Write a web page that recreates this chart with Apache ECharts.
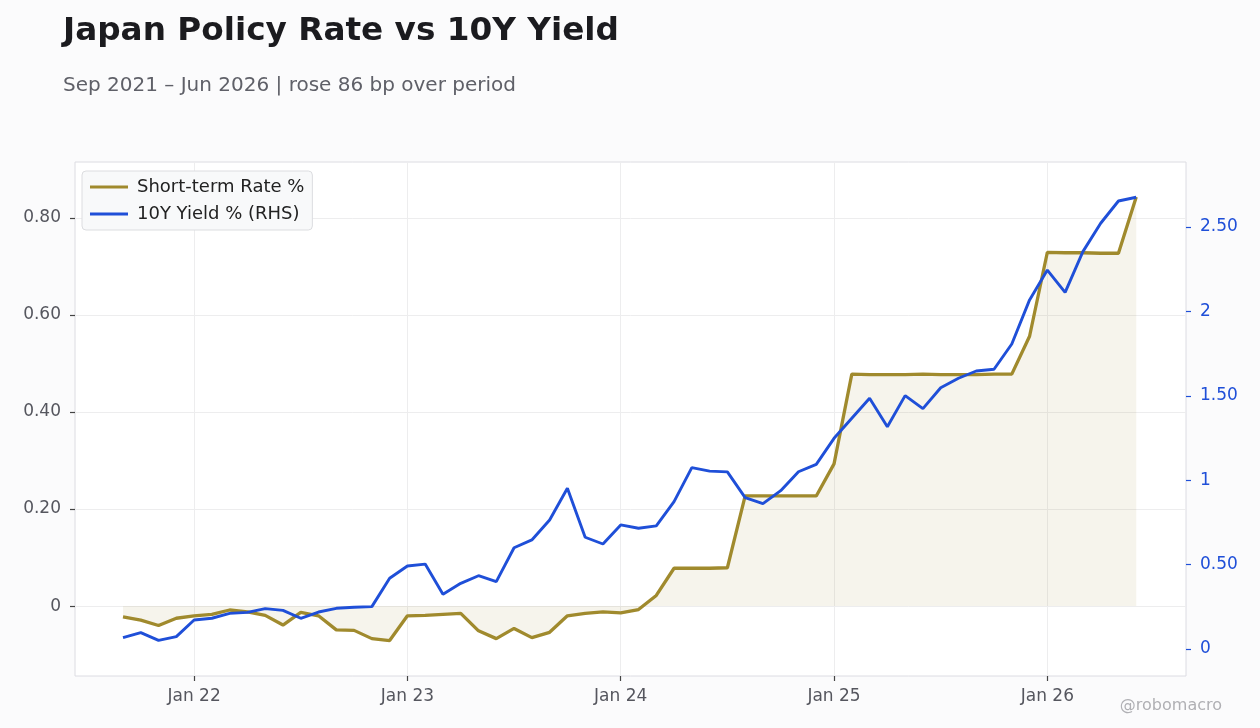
<!DOCTYPE html>
<html>
<head>
<meta charset="utf-8">
<script src="https://cdn.jsdelivr.net/npm/echarts@6/dist/echarts.min.js"></script>
<style>
  html, body { margin: 0; padding: 0; background: #fbfbfc; }
  #main { width: 1260px; height: 728px; }
</style>
</head>
<body>
<div id="main"></div>
<script>
// monthly, Sep 2021 .. Jun 2026
const months = [
    '2021-09','2021-10','2021-11','2021-12',
    '2022-01','2022-02','2022-03','2022-04','2022-05','2022-06','2022-07','2022-08','2022-09','2022-10','2022-11','2022-12',
    '2023-01','2023-02','2023-03','2023-04','2023-05','2023-06','2023-07','2023-08','2023-09','2023-10','2023-11','2023-12',
    '2024-01','2024-02','2024-03','2024-04','2024-05','2024-06','2024-07','2024-08','2024-09','2024-10','2024-11','2024-12',
    '2025-01','2025-02','2025-03','2025-04','2025-05','2025-06','2025-07','2025-08','2025-09','2025-10','2025-11','2025-12',
    '2026-01','2026-02','2026-03','2026-04','2026-05','2026-06'
];

const shortRate = [
    -0.022, -0.029, -0.040, -0.025,
    -0.020, -0.017, -0.008, -0.012, -0.019, -0.039, -0.013, -0.020, -0.049, -0.050, -0.067, -0.071,
    -0.020, -0.019, -0.017, -0.015, -0.051, -0.067, -0.046, -0.065, -0.054, -0.020, -0.015, -0.012,
    -0.014, -0.007, 0.022, 0.078, 0.078, 0.078, 0.079, 0.227, 0.227, 0.227, 0.227, 0.227,
    0.293, 0.478, 0.477, 0.477, 0.477, 0.478, 0.477, 0.477, 0.477, 0.478, 0.478, 0.556,
    0.729, 0.728, 0.728, 0.727, 0.727, 0.843
];

const yield10y = [
    0.067, 0.097, 0.051, 0.073,
    0.172, 0.182, 0.211, 0.217, 0.239, 0.229, 0.182, 0.219, 0.241, 0.247, 0.251, 0.419,
    0.492, 0.503, 0.324, 0.389, 0.434, 0.399, 0.600, 0.646, 0.764, 0.952, 0.662, 0.622,
    0.735, 0.715, 0.729, 0.873, 1.074, 1.054, 1.049, 0.897, 0.861, 0.938, 1.050, 1.094,
    1.248, 1.367, 1.485, 1.317, 1.501, 1.424, 1.548, 1.604, 1.647, 1.657, 1.807, 2.068,
    2.245, 2.113, 2.354, 2.522, 2.654, 2.676
];

const leftTicks = [0, 0.2, 0.4, 0.6, 0.8];
const rightTicks = [0, 0.5, 1, 1.5, 2, 2.5];
const janTicks = [0, 12, 24, 36, 48];   // months from Jan 2022

const GOLD = '#a08a2d';
const BLUE = '#1f4fd8';
const FONT = 'DejaVu Sans';

// x = months since Jan 2022
function monthX(m) {
    const [y, mo] = m.split('-').map(Number);
    return (y - 2022) * 12 + (mo - 1);
}

const goldData = months.map((m, i) => [monthX(m), shortRate[i]]);
const blueData = months.map((m, i) => [monthX(m), yield10y[i]]);

function fmtLeft(v) {
    return v === 0 ? '0' : v.toFixed(2);
}
function fmtRight(v) {
    return Number.isInteger(v) ? String(v) : v.toFixed(2);
}

const chart = echarts.init(document.getElementById('main'));
chart.setOption({
    backgroundColor: '#fbfbfc',
    animation: false,
    textStyle: { fontFamily: FONT },
    title: [
        {
            text: 'Japan Policy Rate vs 10Y Yield',
            left: 58, top: 10,
            textStyle: { fontSize: 32.7, fontWeight: 'bold', color: '#1b1b1f', fontFamily: FONT }
        },
        {
            text: 'Sep 2021 – Jun 2026 | rose 86 bp over period',
            left: 58, top: 71,
            textStyle: { fontSize: 20, fontWeight: 'normal', color: '#5f6068', fontFamily: FONT }
        },
        {
            text: '@robomacro',
            right: 33, top: 693,
            textStyle: { fontSize: 16, fontWeight: 'normal', color: '#b0b0b4', fontFamily: FONT }
        }
    ],
    legend: {
        orient: 'vertical',
        left: 82, top: 171,
        padding: [7, 8, 7, 8],
        itemGap: 9,
        itemWidth: 38, itemHeight: 3,
        icon: 'rect',
        backgroundColor: '#f8f9fa',
        borderColor: '#dcdde0',
        borderWidth: 1,
        borderRadius: 4,
        textStyle: { fontSize: 18, color: '#222', fontFamily: FONT, padding: [0, 0, 0, 4] },
        data: ['Short-term Rate %', '10Y Yield % (RHS)']
    },
    grid: {
        left: 75, right: 74, top: 162, bottom: 52,
        show: true,
        backgroundColor: '#ffffff',
        borderColor: '#dcdce2',
        borderWidth: 1
    },
    xAxis: {
        type: 'value',
        min: -6.7, max: 55.8,
        axisLine: { show: false, onZero: false },
        axisTick: { show: true, length: 5, customValues: janTicks, lineStyle: { color: '#444', width: 1.2 } },
        axisLabel: {
            customValues: janTicks,
            formatter: v => 'Jan ' + (22 + v / 12),
            fontSize: 17, color: '#55565e', margin: 12, fontFamily: FONT
        },
        splitLine: { show: true, lineStyle: { color: '#ededee', width: 1 } }
    },
    yAxis: [
        {
            type: 'value',
            min: -0.144, max: 0.915,
            axisLine: { show: false, onZero: false },
            axisTick: { show: true, length: 5, customValues: leftTicks, lineStyle: { color: '#444', width: 1.2 } },
            axisLabel: {
                customValues: leftTicks,
                formatter: fmtLeft,
                fontSize: 17, color: '#55565e', margin: 14, fontFamily: FONT
            },
            splitLine: { show: true, lineStyle: { color: '#ededee', width: 1 } }
        },
        {
            type: 'value',
            position: 'right',
            min: -0.16, max: 2.885,
            axisLine: { show: false, onZero: false },
            axisTick: { show: true, length: 5, customValues: rightTicks, lineStyle: { color: BLUE, width: 1.2 } },
            axisLabel: {
                customValues: rightTicks,
                formatter: fmtRight,
                fontSize: 17, color: BLUE, margin: 14, fontFamily: FONT
            },
            splitLine: { show: false }
        }
    ],
    series: [
        {
            name: 'Short-term Rate %',
            type: 'line',
            yAxisIndex: 0,
            data: goldData,
            showSymbol: false,
            lineStyle: { color: GOLD, width: 3.3 },
            itemStyle: { color: GOLD },
            areaStyle: { color: 'rgba(160,138,45,0.09)', opacity: 1, origin: 0 },
            z: 2
        },
        {
            name: '10Y Yield % (RHS)',
            type: 'line',
            yAxisIndex: 1,
            data: blueData,
            showSymbol: false,
            lineStyle: { color: BLUE, width: 2.9 },
            itemStyle: { color: BLUE },
            z: 3
        }
    ]
});
</script>
</body>
</html>
